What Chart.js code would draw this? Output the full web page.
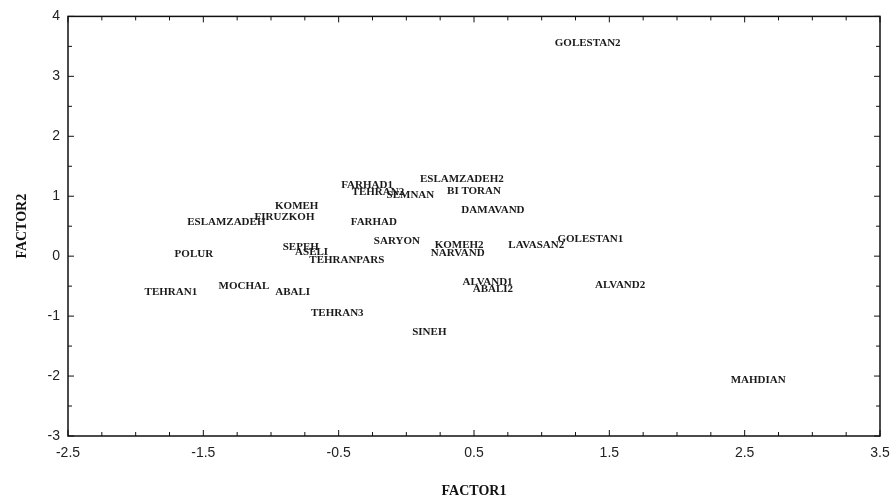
<!DOCTYPE html>
<html>
<head>
<meta charset="utf-8">
<script src="https://cdn.jsdelivr.net/npm/chart.js@4.4.1/dist/chart.umd.min.js"></script>
<style>
  html, body { margin: 0; padding: 0; background: #fff; }
  #wrap { width: 890px; height: 504px; }
</style>
</head>
<body>
<div id="wrap"><canvas id="c" width="890" height="504"></canvas></div>
<script>
// Factor scores of the sampled sites
const sites = [
  "GOLESTAN2", "ESLAMZADEH2", "BI TORAN", "FARHAD1", "TEHRAN2", "SEMNAN",
  "DAMAVAND", "KOMEH", "FIRUZKOH", "ESLAMZADEH", "FARHAD", "SARYON",
  "KOMEH2", "NARVAND", "LAVASAN2", "GOLESTAN1", "POLUR", "SEPEH",
  "ASELI", "TEHRANPARS", "TEHRAN1", "MOCHAL", "ABALI", "TEHRAN3",
  "ALVAND1", "ABALI2", "ALVAND2", "SINEH", "MAHDIAN"
];
const factor1 = [
  1.34, 0.41, 0.50, -0.29, -0.21, 0.03,
  0.64, -0.81, -0.90, -1.33, -0.24, -0.07,
  0.39, 0.38, 0.96, 1.36, -1.57, -0.78,
  -0.70, -0.44, -1.74, -1.20, -0.84, -0.51,
  0.60, 0.64, 1.58, 0.17, 2.60
];
const factor2 = [
  3.55, 1.29, 1.08, 1.18, 1.06, 1.01,
  0.76, 0.83, 0.65, 0.56, 0.56, 0.25,
  0.18, 0.05, 0.18, 0.28, 0.03, 0.15,
  0.07, -0.07, -0.60, -0.50, -0.60, -0.95,
  -0.43, -0.55, -0.48, -1.26, -2.07
];
const xLabels = [-2.5, -1.5, -0.5, 0.5, 1.5, 2.5, 3.5];
const yLabels = [-3, -2, -1, 0, 1, 2, 3, 4];

const points = factor1.map((v, i) => ({ x: v, y: factor2[i] }));
const near = (v, arr) => arr.some(a => Math.abs(a - v) < 1e-6);

// Frame around the plot area with inward tick marks
const framePlugin = {
  id: 'frame',
  afterDraw(chart) {
    const { ctx, chartArea: a, scales } = chart;
    ctx.save();
    ctx.strokeStyle = '#111';
    ctx.lineWidth = 1.5;
    ctx.strokeRect(a.left, a.top, a.right - a.left, a.bottom - a.top);
    ctx.lineWidth = 1;
    scales.x.ticks.forEach(t => {
      const px = scales.x.getPixelForValue(t.value);
      const len = near(t.value, xLabels) ? 6 : 4;
      ctx.beginPath();
      ctx.moveTo(px, a.bottom); ctx.lineTo(px, a.bottom - len);
      ctx.moveTo(px, a.top); ctx.lineTo(px, a.top + len);
      ctx.stroke();
    });
    scales.y.ticks.forEach(t => {
      const py = scales.y.getPixelForValue(t.value);
      const len = near(t.value, yLabels) ? 6 : 4;
      ctx.beginPath();
      ctx.moveTo(a.left, py); ctx.lineTo(a.left + len, py);
      ctx.moveTo(a.right, py); ctx.lineTo(a.right - len, py);
      ctx.stroke();
    });
    ctx.restore();
  }
};

// Site names written at each score position
const namePlugin = {
  id: 'names',
  afterDatasetsDraw(chart) {
    const { ctx } = chart;
    const meta = chart.getDatasetMeta(0);
    ctx.save();
    ctx.font = 'bold 11px "Liberation Serif", "DejaVu Serif", serif';
    ctx.fillStyle = '#1a1a1a';
    ctx.textAlign = 'center';
    ctx.textBaseline = 'middle';
    meta.data.forEach((el, i) => {
      ctx.fillText(sites[i], el.x, el.y);
    });
    ctx.restore();
  }
};

new Chart(document.getElementById('c'), {
  type: 'scatter',
  data: {
    datasets: [{
      data: points,
      pointRadius: 0,
      pointHoverRadius: 0,
      showLine: false
    }]
  },
  options: {
    responsive: false,
    animation: false,
    events: [],
    layout: { padding: { top: 14, right: 0, left: 0, bottom: 0 } },
    plugins: { legend: { display: false }, tooltip: { enabled: false } },
    scales: {
      x: {
        type: 'linear',
        min: -2.5, max: 3.5,
        grid: { display: false, drawTicks: false },
        border: { display: false },
        ticks: {
          stepSize: 0.25,
          autoSkip: false,
          maxRotation: 0,
          padding: 9,
          color: '#222',
          font: { family: '"Liberation Sans", Arial, sans-serif', size: 14 },
          callback: v => near(v, xLabels) ? String(v) : ''
        },
        title: {
          display: true,
          text: 'FACTOR1',
          color: '#111',
          padding: { top: 14 },
          font: { family: '"Liberation Serif", serif', size: 14, weight: 'bold' }
        },
        afterFit: s => { s.height = 68; s.paddingRight = 10; s.paddingLeft = 0; }
      },
      y: {
        type: 'linear',
        min: -3, max: 4,
        grid: { display: false, drawTicks: false },
        border: { display: false },
        ticks: {
          stepSize: 0.5,
          autoSkip: false,
          padding: 8,
          color: '#222',
          font: { family: '"Liberation Sans", Arial, sans-serif', size: 14 },
          callback: v => near(v, yLabels) ? String(v) : ''
        },
        title: {
          display: true,
          text: 'FACTOR2',
          color: '#111',
          padding: { top: 14, bottom: 0 },
          font: { family: '"Liberation Serif", serif', size: 14, weight: 'bold' }
        },
        afterFit: s => { s.width = 68; }
      }
    }
  },
  plugins: [framePlugin, namePlugin]
});
</script>
</body>
</html>
